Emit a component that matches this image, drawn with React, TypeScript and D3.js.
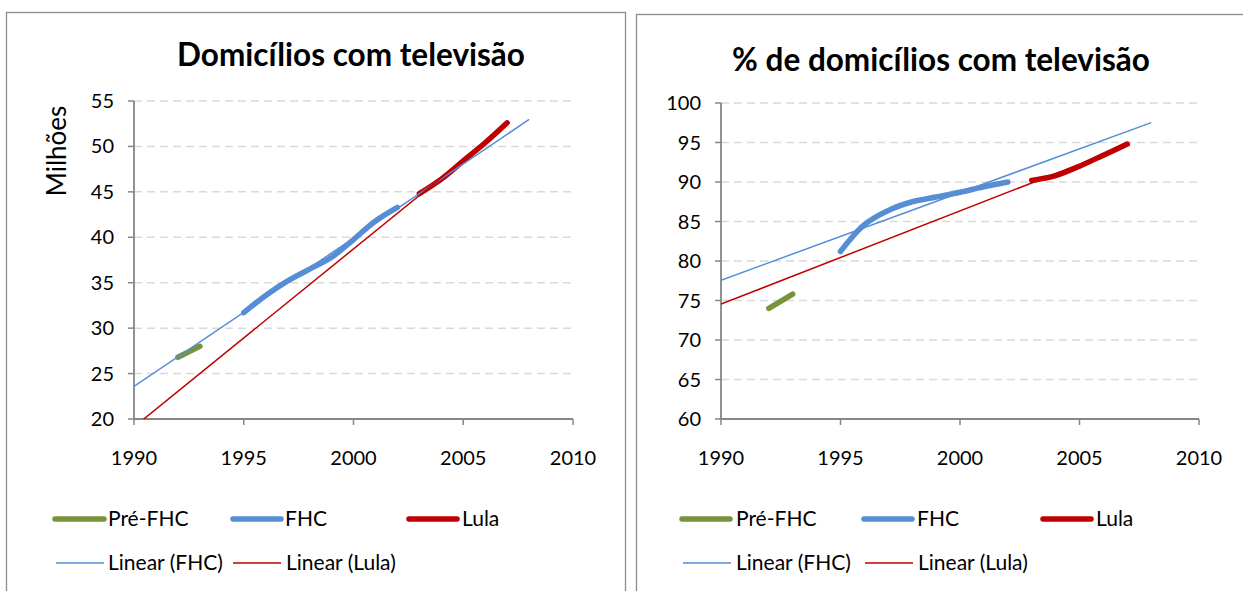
import React from "react";
import * as d3 from "d3";

// ---------- data ----------
const preYears = [1992, 1993];
const fhcYears = [1995, 1996, 1997, 1998, 1999, 2000, 2001, 2002];
const lulaYears = [2003, 2004, 2005, 2006, 2007];

const homesPre = [26.8, 28.0];
const homesFhc = [31.7, 33.6, 35.2, 36.5, 37.8, 39.75, 41.8, 43.3];
const homesLula = [44.8, 46.4, 48.4, 50.4, 52.6];

const pctPre = [74.0, 75.8];
const pctFhc = [81.2, 84.6, 86.4, 87.5, 88.1, 88.7, 89.4, 90.0];
const pctLula = [90.2, 90.8, 92.0, 93.4, 94.8];

const xTicks = [1990, 1995, 2000, 2005, 2010];
const homesTicks = [20, 25, 30, 35, 40, 45, 50, 55];
const pctTicks = [60, 65, 70, 75, 80, 85, 90, 95, 100];

const trendFhcRange = [1990, 2008];
const trendLulaRange = [1990, 2007];

const legendRow1 = ["Pré-FHC", "FHC", "Lula"];
const legendRow2 = ["Linear (FHC)", "Linear (Lula)"];

// ---------- styles ----------
const GREEN = "#77933C";
const BLUE = "#558ED5";
const RED = "#C00000";
const AXIS = "#868686";
const GRID = "#D9D9D9";
const FONT = "Lato, 'Open Sans', sans-serif";

function linReg(xs: number[], ys: number[]) {
  const mx = d3.mean(xs)!;
  const my = d3.mean(ys)!;
  let sxy = 0, sxx = 0;
  xs.forEach((x, i) => { sxy += (x - mx) * (ys[i] - my); sxx += (x - mx) * (x - mx); });
  const b = sxy / sxx;
  const a = my - b * mx;
  return (x: number) => a + b * x;
}

type ChartProps = {
  id: string;
  frame: { x: number; y: number; w: number; h: number };
  plot: { x0: number; x1: number; y0: number; y1: number };
  title: string;
  titleX: number;
  titleY: number;
  yLabel?: string;
  yTicks: number[];
  pre: number[];
  fhc: number[];
  lula: number[];
  legend1: { sw: [number, number]; tx: number }[];
  legend2: { sw: [number, number]; tx: number }[];
  legendY: [number, number];
};

function Chart(p: ChartProps) {
  const x = d3.scaleLinear().domain([1990, 2010]).range([p.plot.x0, p.plot.x1]);
  const yDom = d3.extent(p.yTicks) as [number, number];
  const y = d3.scaleLinear().domain(yDom).range([p.plot.y1, p.plot.y0]);
  const line = d3.line<[number, number]>().x(d => x(d[0])).y(d => y(d[1])).curve(d3.curveCatmullRom.alpha(0.5));
  const straight = d3.line<[number, number]>().x(d => x(d[0])).y(d => y(d[1]));

  const fF = linReg(fhcYears, p.fhc);
  const fL = linReg(lulaYears, p.lula);
  const tF: [number, number][] = trendFhcRange.map(t => [t, fF(t)]);
  const tL: [number, number][] = trendLulaRange.map(t => [t, fL(t)]);

  const zip = (xs: number[], ys: number[]) => xs.map((v, i) => [v, ys[i]] as [number, number]);
  const clipId = `clip-${p.id}`;

  const leg1Colors = [GREEN, BLUE, RED];
  const leg2Colors = [BLUE, RED];

  return (
    <g>
      <rect x={p.frame.x} y={p.frame.y} width={p.frame.w} height={p.frame.h} fill="#fff" stroke="#8C8C8C" strokeWidth={1.3} />
      <defs>
        <clipPath id={clipId}>
          <rect x={p.plot.x0} y={p.plot.y0 - 2} width={p.plot.x1 - p.plot.x0} height={p.plot.y1 - p.plot.y0 + 2} />
        </clipPath>
      </defs>
      <text x={p.titleX} y={p.titleY} textAnchor="middle" fontFamily={FONT} fontWeight="bold" fontSize={31.5} fill="#000">{p.title}</text>
      {p.yLabel && (
        <text transform={`translate(66,151) rotate(-90)`} textAnchor="middle" fontFamily={FONT} fontSize={26} fill="#000">{p.yLabel}</text>
      )}
      {/* gridlines */}
      {p.yTicks.filter(t => t !== yDom[0]).map(t => (
        <line key={"g" + t} x1={p.plot.x0} x2={p.plot.x1} y1={y(t)} y2={y(t)} stroke={GRID} strokeWidth={1.5} strokeDasharray="8,5" />
      ))}
      {/* axes */}
      <line x1={p.plot.x0} x2={p.plot.x0} y1={p.plot.y0} y2={p.plot.y1} stroke={AXIS} strokeWidth={1.8} />
      <line x1={p.plot.x0} x2={p.plot.x1} y1={p.plot.y1} y2={p.plot.y1} stroke={AXIS} strokeWidth={1.8} />
      {p.yTicks.map(t => (
        <g key={"y" + t}>
          <line x1={p.plot.x0 - 6} x2={p.plot.x0} y1={y(t)} y2={y(t)} stroke={AXIS} strokeWidth={1.5} />
          <text x={p.plot.x0 - 20} y={y(t)} dy="0.35em" textAnchor="end" fontFamily={FONT} fontSize={20} fill="#000">{t}</text>
        </g>
      ))}
      {xTicks.map(t => (
        <g key={"x" + t}>
          <line x1={x(t)} x2={x(t)} y1={p.plot.y1} y2={p.plot.y1 + 6} stroke={AXIS} strokeWidth={1.5} />
          <text x={x(t)} y={p.plot.y1 + 46} textAnchor="middle" fontFamily={FONT} fontSize={20} fill="#000">{t}</text>
        </g>
      ))}
      {/* series */}
      <g clipPath={`url(#${clipId})`}>
        <path d={line(zip(preYears, p.pre))!} fill="none" stroke={GREEN} strokeWidth={5.5} strokeLinecap="round" />
        <path d={line(zip(fhcYears, p.fhc))!} fill="none" stroke={BLUE} strokeWidth={5.5} strokeLinecap="round" strokeLinejoin="round" />
        <path d={line(zip(lulaYears, p.lula))!} fill="none" stroke={RED} strokeWidth={5.5} strokeLinecap="round" strokeLinejoin="round" />
        <path d={straight(tF)!} fill="none" stroke={BLUE} strokeWidth={1.5} />
        <path d={straight(tL)!} fill="none" stroke={RED} strokeWidth={1.5} />
      </g>
      {/* legend */}
      {legendRow1.map((name, i) => (
        <g key={"l1" + name}>
          <line x1={p.legend1[i].sw[0]} x2={p.legend1[i].sw[1]} y1={p.legendY[0]} y2={p.legendY[0]} stroke={leg1Colors[i]} strokeWidth={5.5} strokeLinecap="round" />
          <text x={p.legend1[i].tx} y={p.legendY[0]} dy="0.35em" fontFamily={FONT} fontSize={21} fill="#000">{name}</text>
        </g>
      ))}
      {legendRow2.map((name, i) => (
        <g key={"l2" + name}>
          <line x1={p.legend2[i].sw[0]} x2={p.legend2[i].sw[1]} y1={p.legendY[1]} y2={p.legendY[1]} stroke={leg2Colors[i]} strokeWidth={1.5} />
          <text x={p.legend2[i].tx} y={p.legendY[1]} dy="0.35em" fontFamily={FONT} fontSize={21} fill="#000">{name}</text>
        </g>
      ))}
    </g>
  );
}

export default function App() {
  return (
    <svg width={1243} height={591} style={{ position: "absolute", left: 0, top: 0 }} xmlns="http://www.w3.org/2000/svg">
      <rect x={0} y={0} width={1243} height={591} fill="#fff" />
      <Chart
        id="left"
        frame={{ x: 6.5, y: 12.5, w: 619, h: 600 }}
        plot={{ x0: 134, x1: 573, y0: 101, y1: 419 }}
        title="Domicílios com televisão"
        titleX={351}
        titleY={66}
        yLabel="Milhões"
        yTicks={homesTicks}
        pre={homesPre}
        fhc={homesFhc}
        lula={homesLula}
        legend1={[{ sw: [55, 104], tx: 108 }, { sw: [233, 281], tx: 285 }, { sw: [409, 457], tx: 462 }]}
        legend2={[{ sw: [56, 104], tx: 108 }, { sw: [233, 281], tx: 286 }]}
        legendY={[519, 563]}
      />
      <Chart
        id="right"
        frame={{ x: 636.5, y: 14.5, w: 620, h: 600 }}
        plot={{ x0: 721, x1: 1199, y0: 103, y1: 419 }}
        title="% de domicílios com televisão"
        titleX={941}
        titleY={71}
        yTicks={pctTicks}
        pre={pctPre}
        fhc={pctFhc}
        lula={pctLula}
        legend1={[{ sw: [682, 730], tx: 736 }, { sw: [864, 912], tx: 917 }, { sw: [1043, 1091], tx: 1096 }]}
        legend2={[{ sw: [683, 731], tx: 736 }, { sw: [865, 913], tx: 918 }]}
        legendY={[519, 563]}
      />
    </svg>
  );
}
